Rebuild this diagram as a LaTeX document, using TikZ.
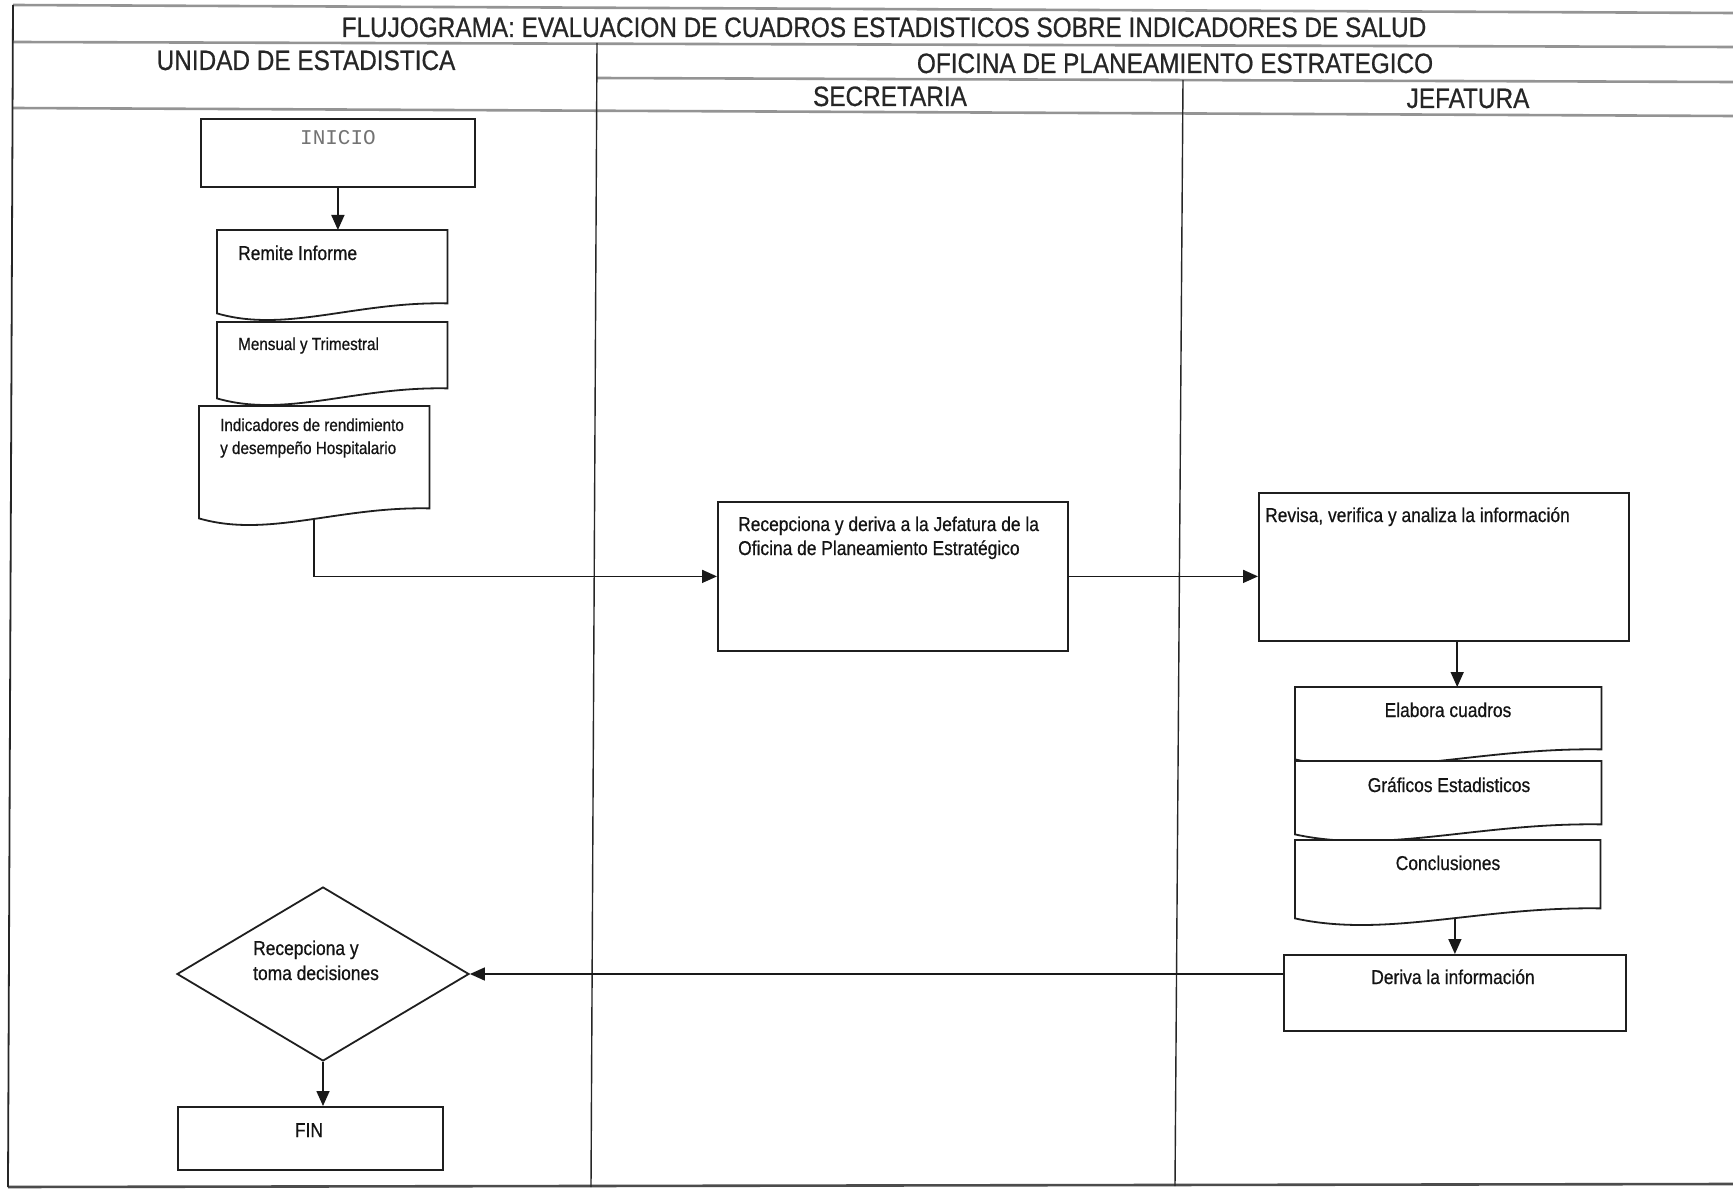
\documentclass[tikz,border=0pt]{standalone}
\usepackage{fontspec}
\setmainfont{Liberation Sans}
\newfontfamily\narrowsans{Liberation Sans}[FakeStretch=0.87,FakeBold=0.6]
\newfontfamily\typewriter{Liberation Mono}
\usetikzlibrary{arrows.meta,calc,shapes.geometric}

\tikzset{
  frameline/.style={draw=black!42, line width=2.6pt},
  lanediv/.style={draw=black!85, line width=1.4pt},
  boxline/.style={draw=black!88, line width=1.8pt, fill=white},
  procbox/.style={rectangle, boxline, anchor=north west, inner sep=0pt},
  docarea/.style={rectangle, anchor=north west, inner sep=0pt},
  decision/.style={diamond, boxline, inner sep=0pt, minimum width=292pt, minimum height=174pt},
  flow/.style={line width=1.6pt, draw=black!90, -{Triangle[length=15pt,width=13pt]}},
  heading/.style={font=\narrowsans\fontsize{28}{32}\selectfont, text=black!85, inner sep=0pt, anchor=base},
  bodytext/.style={font=\narrowsans\fontsize{20}{24}\selectfont, text=black!92, inner sep=0pt, anchor=base west},
  smalltext/.style={font=\narrowsans\fontsize{17.5}{22}\selectfont, text=black!92, inner sep=0pt, anchor=base west},
  midtext/.style={bodytext, anchor=base},
  monotext/.style={font=\typewriter\fontsize{21}{24}\selectfont, text=black!55, inner sep=0pt, anchor=base},
}

% document symbol: flat top, wavy bottom that drops towards the left
\newcommand\docoutline[2]{%
  \draw[boxline] (#1.south east) -- (#1.north east) -- (#1.north west)
    -- ($(#1.south west)+(0,10)$)
    .. controls ($(#1.south west)+(0.3*#2,30)$) and ($(#1.south east)+(-0.4*#2,-2)$) .. (#1.south east)
    -- cycle;}

\begin{document}
\begin{tikzpicture}[x=1pt,y=-1pt]
\fill[white] (0,0) rectangle (1733,1190);
\useasboundingbox (0,0) rectangle (1733,1190);

% table rules
\draw[frameline] (13,5) -- (1733,13);
\draw[frameline] (13,42) -- (1733,47);
\draw[frameline] (596,78) -- (1733,82);
\draw[frameline] (13,108) -- (1733,116);
\draw[frameline, draw=black!70] (8,1187) -- (1733,1184);
\draw[lanediv, line width=1.8pt] (13,5) -- (8,1187);
\draw[lanediv] (597,43) -- (591,1187);
\draw[lanediv] (1183,80) -- (1175,1186);

% headings
\node[heading] (title) at (884,37) {FLUJOGRAMA: EVALUACION DE CUADROS ESTADISTICOS SOBRE INDICADORES DE SALUD};
\node[heading] (unidad) at (306,70) {UNIDAD DE ESTADISTICA};
\node[heading] (oficina) at (1175,73) {OFICINA DE PLANEAMIENTO ESTRATEGICO};
\node[heading] (secre) at (890,106) {SECRETARIA};
\node[heading] (jefe) at (1468,108) {JEFATURA};

% process boxes
\node[procbox, minimum width=274pt, minimum height=68pt] (inicio) at (200,118) {};
\node[procbox, minimum width=350pt, minimum height=149pt] (recep) at (717,501) {};
\node[procbox, minimum width=370pt, minimum height=148pt] (revisa) at (1258,492) {};
\node[procbox, minimum width=342pt, minimum height=76pt] (deriva) at (1283,954) {};
\node[procbox, minimum width=265pt, minimum height=63pt] (fin) at (177,1106) {};
\node[decision] (dec) at (323,974) {};

% document symbols (area up to the right end of the wavy edge)
\node[docarea, minimum width=230pt, minimum height=73pt] (remite) at (217,230) {};
\node[docarea, minimum width=230pt, minimum height=66pt] (mensual) at (217,322) {};
\node[docarea, minimum width=230pt, minimum height=102pt] (indic) at (199,406) {};
\node[docarea, minimum width=306pt, minimum height=62pt] (elabora) at (1295,687) {};
\node[docarea, minimum width=306pt, minimum height=63pt] (graf) at (1295,761) {};
\node[docarea, minimum width=305pt, minimum height=68pt] (concl) at (1295,840) {};

% connectors
\draw[flow] (inicio.south) -- (inicio.south |- remite.north);
\draw[flow] (indic.south) |- (recep.west);
\draw[flow] (recep.east) -- (recep.east -| revisa.west);
\draw[flow] ([xshift=9pt]elabora.north |- revisa.south) -- ([xshift=9pt]elabora.north);
\draw[flow] (concl.south -| deriva.north) -- (deriva.north);
\draw[flow] (deriva.west |- dec.east) -- (dec.east);
\draw[flow] (dec.south) -- (dec.south |- fin.north);

\docoutline{remite}{230}
\docoutline{mensual}{230}
\docoutline{indic}{230}
\docoutline{elabora}{306}
\docoutline{graf}{306}
\docoutline{concl}{305}

% texts
\node[monotext] (inicio-t) at (338,145) {INICIO};
\node[bodytext] (remite-t) at (238,260) {Remite Informe};
\node[smalltext] (mensual-t) at (238,350) {Mensual y Trimestral};
\node[smalltext] (indic-t1) at (220,431) {Indicadores de rendimiento};
\node[smalltext] (indic-t2) at (220,454) {y desempeño Hospitalario};
\node[bodytext] (recep-t1) at (738,531) {Recepciona y deriva a la Jefatura de la};
\node[bodytext] (recep-t2) at (738,555) {Oficina de Planeamiento Estratégico};
\node[bodytext] (revisa-t) at (1265,522) {Revisa, verifica y analiza la información};
\node[midtext] (elabora-t) at (1448,717) {Elabora cuadros};
\node[midtext] (graf-t) at (1449,792) {Gráficos Estadisticos};
\node[midtext] (concl-t) at (1448,870) {Conclusiones};
\node[midtext] (deriva-t) at (1453,984) {Deriva la información};
\node[bodytext] (dec-t1) at (253,955) {Recepciona y};
\node[bodytext] (dec-t2) at (253,980) {toma decisiones};
\node[midtext] (fin-t) at (309,1137) {FIN};
\end{tikzpicture}
\end{document}
